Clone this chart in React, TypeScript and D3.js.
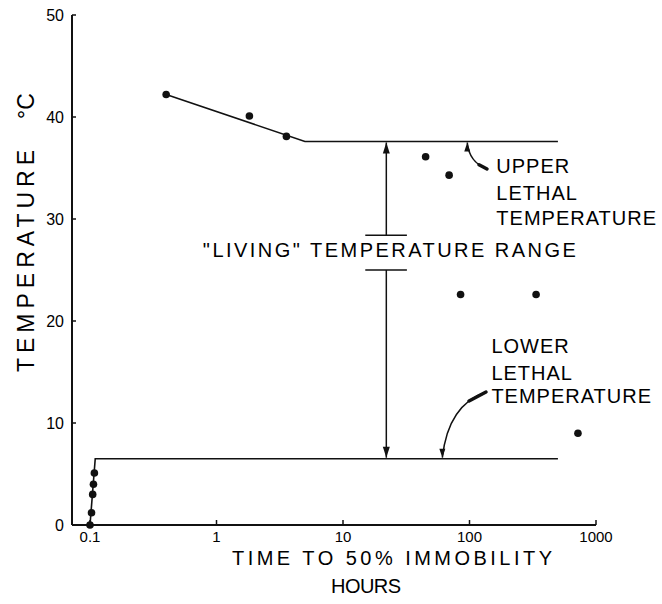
import { useEffect, useRef } from "react";
import * as d3 from "d3";

// hours to 50% immobility vs temperature (°C)
const upperFit: [number, number][] = [
  [0.4, 42.2],
  [5, 37.6],
  [500, 37.6],
];
const lowerFit: [number, number][] = [
  [0.1, 0],
  [0.11, 6.5],
  [500, 6.5],
];
const observed: [number, number][] = [
  [0.4, 42.2],
  [1.82, 40.1],
  [3.57, 38.1],
  [45, 36.1],
  [69, 34.3],
  [85, 22.6],
  [336, 22.6],
  [720, 9.0],
  [0.1, 0],
  [0.1028, 1.2],
  [0.105, 3.0],
  [0.1065, 4.0],
  [0.1083, 5.1],
];
const xTicks = [0.1, 1, 10, 100, 1000];
const xTickLabels = ["0.1", "1", "10", "100", "1000"];
const yTicks = [0, 10, 20, 30, 40, 50];

// "living" range marker: time, bar temps
const rangeTime = 22;
const rangeBars = [28.4, 25.0];
const rangeBarSpan: [number, number] = [15, 32];

const upperLabel = ["UPPER", "LETHAL", "TEMPERATURE"];
const lowerLabel = ["LOWER", "LETHAL", "TEMPERATURE"];

const W = 662;
const H = 604;
const FONT = "'Liberation Sans', Arial, sans-serif";

const App = () => {
  const svgRef = useRef<SVGSVGElement>(null);

  useEffect(() => {
    const svg = d3.select(svgRef.current);
    svg.selectAll("*").remove();

    const x = d3.scaleLog().domain([0.1, 1000]).range([90, 596]);
    const y = d3.scaleLinear().domain([0, 50]).range([525, 15]);
    const x0 = 72;

    const g = svg.append("g");

    // axes
    g.append("line")
      .attr("x1", x0).attr("x2", x(1000))
      .attr("y1", y(0)).attr("y2", y(0))
      .attr("stroke", "#111").attr("stroke-width", 2);
    g.append("line")
      .attr("x1", x0).attr("x2", x0)
      .attr("y1", y(0)).attr("y2", y(50))
      .attr("stroke", "#111").attr("stroke-width", 2);

    g.selectAll(".xt")
      .data(xTicks)
      .join("line")
      .attr("x1", (d) => x(d)).attr("x2", (d) => x(d))
      .attr("y1", y(0)).attr("y2", y(0) - 5)
      .attr("stroke", "#111").attr("stroke-width", 1.5);
    g.selectAll(".xl")
      .data(xTicks)
      .join("text")
      .attr("x", (d) => x(d))
      .attr("y", y(0) + 17)
      .attr("text-anchor", "middle")
      .style("font-family", FONT)
      .style("font-size", "15px")
      .text((d, i) => xTickLabels[i]);

    g.selectAll(".yt")
      .data(yTicks)
      .join("line")
      .attr("x1", x0).attr("x2", x0 + 4)
      .attr("y1", (d) => y(d)).attr("y2", (d) => y(d))
      .attr("stroke", "#111").attr("stroke-width", 1.5);
    g.selectAll(".yl")
      .data(yTicks)
      .join("text")
      .attr("x", x0 - 8)
      .attr("y", (d) => y(d) + 6)
      .attr("text-anchor", "end")
      .style("font-family", FONT)
      .style("font-size", "16px")
      .text((d) => d);

    // axis titles
    g.append("text")
      .attr("x", 392).attr("y", 565)
      .attr("text-anchor", "middle")
      .attr("textLength", 320)
      .attr("lengthAdjust", "spacing")
      .style("font-family", FONT)
      .style("font-size", "20px")
      .text("TIME TO  50%  IMMOBILITY");
    g.append("text")
      .attr("x", 366).attr("y", 593)
      .attr("text-anchor", "middle")
      .attr("textLength", 70)
      .attr("lengthAdjust", "spacing")
      .style("font-family", FONT)
      .style("font-size", "20px")
      .text("HOURS");
    g.append("text")
      .attr("transform", "translate(34,261) rotate(-90)")
      .attr("text-anchor", "middle")
      .attr("textLength", 222)
      .attr("lengthAdjust", "spacing")
      .style("font-family", FONT)
      .style("font-size", "23px")
      .text("TEMPERATURE");
    g.append("text")
      .attr("transform", "translate(34,106) rotate(-90)")
      .attr("text-anchor", "middle")
      .style("font-family", FONT)
      .style("font-size", "23px")
      .text("°C");

    // fitted lines
    const line = d3
      .line<[number, number]>()
      .x((d) => x(d[0]))
      .y((d) => y(d[1]));
    [upperFit, lowerFit].forEach((pts) => {
      g.append("path")
        .attr("d", line(pts))
        .attr("fill", "none")
        .attr("stroke", "#111")
        .attr("stroke-width", 1.6);
    });

    // observed points
    g.selectAll(".pt")
      .data(observed)
      .join("circle")
      .attr("cx", (d) => x(d[0]))
      .attr("cy", (d) => y(d[1]))
      .attr("r", 3.8)
      .attr("fill", "#111");

    // living range double arrow
    const rx = x(rangeTime);
    rangeBars.forEach((b) => {
      g.append("line")
        .attr("x1", x(rangeBarSpan[0])).attr("x2", x(rangeBarSpan[1]))
        .attr("y1", y(b)).attr("y2", y(b))
        .attr("stroke", "#111").attr("stroke-width", 1.4);
    });
    const arrow = (x1: number, y1: number, y2: number) => {
      g.append("line")
        .attr("x1", x1).attr("x2", x1)
        .attr("y1", y1).attr("y2", y2)
        .attr("stroke", "#111").attr("stroke-width", 1.5);
      const dir = y2 < y1 ? 1 : -1;
      g.append("path")
        .attr(
          "d",
          `M${x1},${y2} L${x1 - 3.5},${y2 + dir * 11} L${x1 + 3.5},${y2 + dir * 11} Z`
        )
        .attr("fill", "#111");
    };
    arrow(rx, y(rangeBars[0]), y(upperFit[2][1]) + 1);
    arrow(rx, y(rangeBars[1]), y(lowerFit[2][1]) - 1);

    g.append("text")
      .attr("x", x(0.78)).attr("y", y(26.3))
      .attr("textLength", 373)
      .attr("lengthAdjust", "spacing")
      .style("font-family", FONT)
      .style("font-size", "20px")
      .text('"LIVING"  TEMPERATURE  RANGE');

    // labels
    const block = (lines: string[], t: number, temps: number[]) => {
      lines.forEach((s, i) => {
        g.append("text")
          .attr("x", x(t)).attr("y", y(temps[i]))
          .style("font-family", FONT)
          .style("font-size", "20px")
          .style("letter-spacing", "1px")
          .text(s);
      });
    };
    block(upperLabel, 163, [34.5, 31.9, 29.4]);
    block(lowerLabel, 149, [16.9, 14.2, 12.0]);

    // curved leaders
    const leader = (
      sx: number, sy: number, cx: number, cy: number, ex: number, ey: number, up: boolean
    ) => {
      g.append("path")
        .attr("d", `M${sx},${sy} Q${cx},${cy} ${ex},${ey}`)
        .attr("fill", "none")
        .attr("stroke", "#111")
        .attr("stroke-width", 1.5);
      // thick tail near the label
      const t = 0.25;
      const mx = (1 - t) * (1 - t) * sx + 2 * (1 - t) * t * cx + t * t * ex;
      const my = (1 - t) * (1 - t) * sy + 2 * (1 - t) * t * cy + t * t * ey;
      g.append("path")
        .attr("d", `M${sx},${sy} L${mx},${my}`)
        .attr("stroke", "#111")
        .attr("stroke-width", 3.5)
        .attr("stroke-linecap", "round");
      const d = up ? 1 : -1;
      g.append("path")
        .attr("d", `M${ex},${ey} L${ex - 3},${ey + d * 9} L${ex + 3},${ey + d * 9} Z`)
        .attr("fill", "#111");
    };
    leader(487, 169, 469, 162, x(96), y(upperFit[2][1]) + 1, true);
    leader(486, 392, 448, 405, x(61), y(lowerFit[2][1]) - 1, false);
  }, []);

  return (
    <svg
      ref={svgRef}
      width={W}
      height={H}
      style={{ position: "absolute", left: 0, top: 0, background: "#fff" }}
    />
  );
};

export default App;
